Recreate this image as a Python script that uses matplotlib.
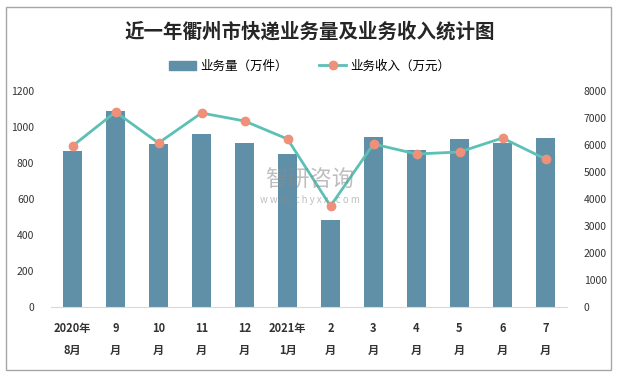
import matplotlib
matplotlib.use('Agg')
import matplotlib.pyplot as plt
import numpy as np
from matplotlib.patches import Rectangle
from matplotlib.lines import Line2D
from matplotlib.patches import Patch

plt.rcParams['font.family'] = ['Noto Sans CJK SC', 'DejaVu Sans']

MONTHS = ['2020年\n8月', '9\n月', '10\n月', '11\n月', '12\n月', '2021年\n1月',
          '2\n月', '3\n月', '4\n月', '5\n月', '6\n月', '7\n月']
VOLUME = [867, 1089, 906, 961, 911, 850, 483, 944, 872, 933, 911, 939]
REVENUE = [5963, 7222, 6074, 7185, 6889, 6222, 3741, 6037, 5667, 5741, 6259, 5481]

BAR_COLOR = '#5f90a8'
LINE_COLOR = '#5cc0b5'
MARKER_COLOR = '#ef907a'

fig = plt.figure(figsize=(6.19, 3.75), dpi=100)
fig.patches.append(Rectangle((6 / 619, 5 / 375), 605 / 619, 363 / 375,
                             transform=fig.transFigure, fill=False,
                             edgecolor='#a6a6a6', linewidth=1))

ax = fig.add_axes([51 / 619, 68 / 375, 516 / 619, 216 / 375])
x = np.arange(len(MONTHS))
ax.bar(x, VOLUME, width=0.44, color=BAR_COLOR, zorder=2)
ax.set_xlim(-0.5, len(MONTHS) - 0.5)
ax.set_ylim(0, 1200)
ax.set_yticks(range(0, 1201, 200))
ax.set_xticks(x)
ax.set_xticklabels(MONTHS, fontsize=8, fontweight='bold', linespacing=1.9)
for s in ['top', 'right', 'left']:
    ax.spines[s].set_visible(False)
ax.spines['bottom'].set_color('#d9d9d9')
ax.tick_params(axis='both', length=0, colors='#333333')
ax.tick_params(axis='y', labelsize=7.5, pad=12)
ax.tick_params(axis='x', pad=11)

ax2 = ax.twinx()
ax2.plot(x, REVENUE, color=LINE_COLOR, linewidth=2, marker='o',
         markersize=6, markerfacecolor=MARKER_COLOR,
         markeredgecolor=MARKER_COLOR, zorder=3)
ax2.set_ylim(0, 8000)
ax2.set_yticks(range(0, 8001, 1000))
for s in ['top', 'right', 'left', 'bottom']:
    ax2.spines[s].set_visible(False)
ax2.tick_params(axis='y', length=0, labelsize=7.5, colors='#333333', pad=12)

fig.text(0.5, 1 - 32 / 375, '近一年衢州市快递业务量及业务收入统计图', ha='center', va='center',
         fontsize=14, fontweight='bold', color='#262626')

handles = [Patch(color=BAR_COLOR),
           Line2D([0], [0], color=LINE_COLOR, linewidth=2, marker='o',
                  markersize=6, markerfacecolor=MARKER_COLOR,
                  markeredgecolor=MARKER_COLOR)]
fig.legend(handles, ['业务量（万件）', '业务收入（万元）'], loc='center',
           bbox_to_anchor=(0.5, 1 - 66 / 375), ncol=2, frameon=False,
           fontsize=9, handlelength=2.2, handletextpad=0.3, columnspacing=2.5)

fig.text(0.5, 1 - 180 / 375, '智研咨询', ha='center', va='center',
         fontsize=16, color='#8a8a8a', alpha=0.55)
fig.text(0.5, 1 - 200 / 375, 'w w w . c h y x x . c o m', ha='center', va='center',
         fontsize=7, color='#8a8a8a', alpha=0.55)

fig.savefig('out.png', dpi=100)
plt.close()
